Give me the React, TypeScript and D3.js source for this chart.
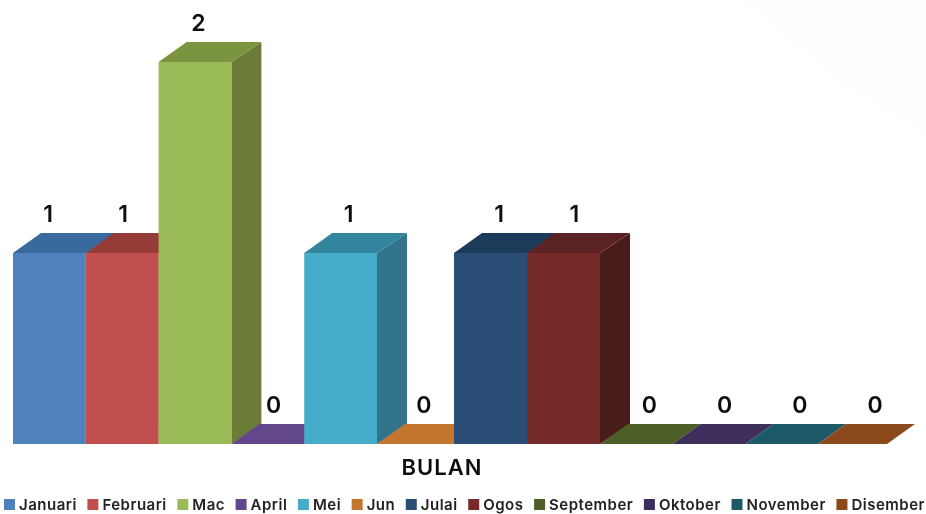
import React, { useEffect, useRef } from "react";
import * as d3 from "d3";

const months = ["Januari", "Februari", "Mac", "April", "Mei", "Jun", "Julai", "Ogos", "September", "Oktober", "November", "Disember"];
const counts = [1, 1, 2, 0, 1, 0, 1, 1, 0, 0, 0, 0];
const frontColors = ["#4f81bd", "#c0504d", "#9bbb59", "#64478c", "#46acc8", "#c4742f", "#2c4d75", "#772c2a", "#4d5f26", "#3e2d5c", "#1f5a68", "#8c4a1b"];
const topColors = ["#386a9e", "#953a38", "#7a9440", "#64478c", "#31859c", "#c4742f", "#1f3a5a", "#5a2220", "#4d5f26", "#3e2d5c", "#1f5a68", "#8c4a1b"];
const sideColors = ["#2f5a88", "#803230", "#6b7c38", "#4e3670", "#33748a", "#9a5a22", "#1b3350", "#4a1d1b", "#3a481c", "#2e2146", "#16444f", "#6c3814"];
const axisTitle = "BULAN";

const FONT = "Inter, 'Open Sans', sans-serif";

export default function App() {
  const ref = useRef<SVGSVGElement>(null);

  useEffect(() => {
    const svg = d3.select(ref.current);
    svg.selectAll("*").remove();

    // the picture's bars are not evenly spaced, so the band edges are piecewise
    const edge = d3.scaleLinear().domain([0, 5, 6, 8, 11, 12]).range([13, 377, 454, 600, 818, 887]);
    const y = d3.scaleLinear().domain([0, 2]).range([444, 62]);
    const labelX = d3.scalePoint<string>().domain(months).range([48, 875]);
    const dx = 28;
    const dy = 20;

    const defs = svg.append("defs");
    defs.append("filter").attr("id", "soft").append("feGaussianBlur").attr("stdDeviation", 0.5);

    const poly = d3.line<[number, number]>();

    // faint background shape in the upper right corner
    svg.append("path")
      .attr("d", poly([[745, 0], [926, 0], [926, 132], [840, 80]]) + "Z")
      .attr("fill", "#fdfdfd");

    const chart = svg.append("g").attr("filter", "url(#soft)");
    months.forEach((m, i) => {
      const x0 = edge(i);
      const x1 = edge(i + 1);
      const yTop = y(counts[i]);
      const yBase = y(0);
      const tall = counts[i] > 0;
      const back = tall ? dx + 2 : dx;
      const g = chart.append("g");
      if (tall) {
        g.append("path")
          .attr("d", poly([[x1, yTop], [x1 + back, yTop - dy], [x1 + back, yBase - dy], [x1, yBase]]) + "Z")
          .attr("fill", sideColors[i]);
      }
      g.append("path")
        .attr("d", poly([[x0, yTop], [x0 + dx, yTop - dy], [x1 + back, yTop - dy], [x1, yTop]]) + "Z")
        .attr("fill", topColors[i]);
      if (tall) {
        g.append("rect")
          .attr("x", x0).attr("y", yTop)
          .attr("width", x1 - x0).attr("height", yBase - yTop)
          .attr("fill", frontColors[i]);
      }
    });

    const text = svg.append("g").attr("filter", "url(#soft)").attr("font-family", FONT);

    text.selectAll("text.val").data(months).join("text")
      .attr("class", "val")
      .attr("x", (m) => labelX(m)!)
      .attr("y", (m, i) => y(counts[i]) - 31)
      .attr("text-anchor", "middle")
      .attr("font-size", 23)
      .attr("font-weight", 600)
      .attr("fill", "#111")
      .text((m, i) => counts[i]);

    text.append("text")
      .attr("x", 442).attr("y", 475)
      .attr("text-anchor", "middle")
      .attr("font-size", 22)
      .attr("font-weight", 600)
      .attr("letter-spacing", 1)
      .attr("fill", "#111")
      .text(axisTitle);

    // legend: measured and spread between the left and right edge
    const swatch = 11;
    const pad = 4;
    const legend = text.append("g");
    const labels = legend.selectAll<SVGTextElement, string>("text").data(months).join("text")
      .attr("y", 510)
      .attr("font-size", 15)
      .attr("font-weight", 600)
      .attr("letter-spacing", 0.5)
      .attr("fill", "#222")
      .text((m) => m);
    const widths = labels.nodes().map((n) => n.getComputedTextLength());
    const left = 4;
    const right = 925;
    const gap = (right - left - d3.sum(widths) - months.length * (swatch + pad)) / (months.length - 1);
    let cx = left;
    months.forEach((m, i) => {
      legend.append("rect")
        .attr("x", cx).attr("y", 499).attr("width", swatch).attr("height", 11)
        .attr("fill", frontColors[i]);
      d3.select(labels.nodes()[i]).attr("x", cx + swatch + pad);
      cx += swatch + pad + widths[i] + gap;
    });
  }, []);

  return <svg ref={ref} width={926} height={514} style={{ position: "absolute", left: 0, top: 0, background: "#fff" }} />;
}
